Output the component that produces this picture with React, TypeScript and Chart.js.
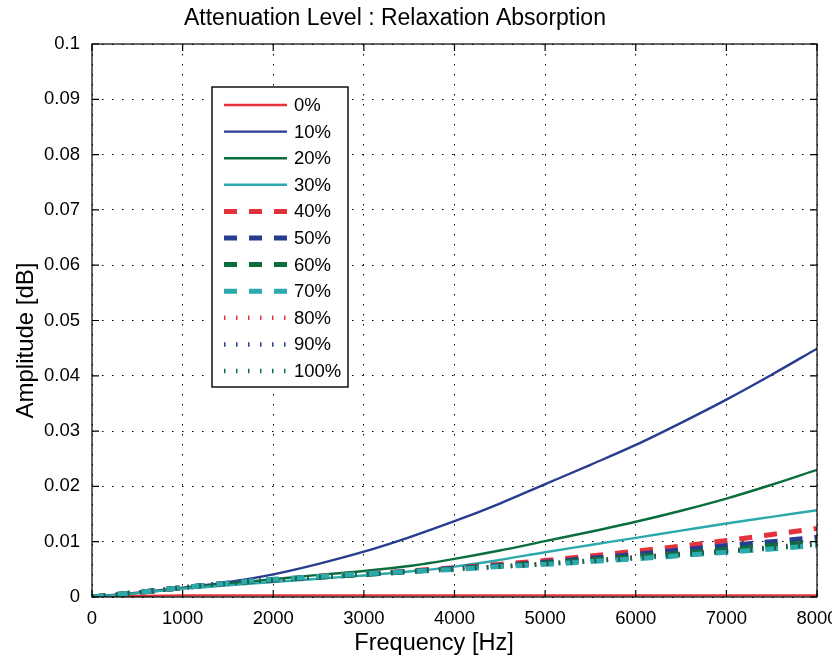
import React, { useEffect, useRef } from 'react';
import { Chart, registerables } from 'chart.js';

Chart.register(...registerables);

// Frequency grid (Hz) shared by every curve
const FREQ_HZ = [0, 500, 1000, 1500, 2000, 2500, 3000, 3500, 4000, 4500, 5000, 5500, 6000, 6500, 7000, 7500, 8000];

// Attenuation amplitude (dB) per level
const AMP_0 = [0, 0.0002, 0.0003, 0.0003, 0.0003, 0.0003, 0.0003, 0.0003, 0.0003, 0.0003, 0.0003, 0.0003, 0.0003, 0.0003, 0.0003, 0.0003, 0.0003];
const AMP_10 = [0, 0.0008, 0.0017, 0.0027, 0.0041, 0.006, 0.0082, 0.0108, 0.0137, 0.0169, 0.0204, 0.0239, 0.0275, 0.0315, 0.0357, 0.0402, 0.0449];
const AMP_20 = [0, 0.0007, 0.0016, 0.0024, 0.0032, 0.004, 0.0047, 0.0056, 0.0069, 0.0084, 0.0101, 0.0118, 0.0136, 0.0156, 0.0178, 0.0203, 0.023];
const AMP_30 = [0, 0.0007, 0.0015, 0.0021, 0.0027, 0.0033, 0.0039, 0.0046, 0.0055, 0.0067, 0.0081, 0.0094, 0.0107, 0.012, 0.0133, 0.0145, 0.0157];
const AMP_40 = [0, 0.0008, 0.0017, 0.0025, 0.0031, 0.0037, 0.0042, 0.0047, 0.0053, 0.0059, 0.0066, 0.0074, 0.0083, 0.0092, 0.0102, 0.0113, 0.0124];
const AMP_50 = [0, 0.0008, 0.0017, 0.0025, 0.0031, 0.0036, 0.0041, 0.0046, 0.0052, 0.0057, 0.0063, 0.007, 0.0077, 0.0085, 0.0093, 0.01, 0.0108];
const AMP_60 = [0, 0.0008, 0.0017, 0.0025, 0.0031, 0.0036, 0.0041, 0.0046, 0.0051, 0.0056, 0.0061, 0.0067, 0.0073, 0.0079, 0.0086, 0.0093, 0.0099];
const AMP_70 = [0, 0.0008, 0.0017, 0.0025, 0.0032, 0.0037, 0.0042, 0.0046, 0.005, 0.0055, 0.0059, 0.0064, 0.0069, 0.0075, 0.0081, 0.0087, 0.0093];
const AMP_80 = [0, 0.0008, 0.0017, 0.0025, 0.0031, 0.0036, 0.0041, 0.0046, 0.0051, 0.0055, 0.006, 0.0066, 0.0072, 0.0078, 0.0084, 0.009, 0.0097];
const AMP_90 = [0, 0.0008, 0.0017, 0.0025, 0.0031, 0.0036, 0.0041, 0.0046, 0.0051, 0.0055, 0.006, 0.0065, 0.0071, 0.0077, 0.0083, 0.0089, 0.0096];
const AMP_100 = [0, 0.0008, 0.0017, 0.0025, 0.0031, 0.0036, 0.0041, 0.0046, 0.005, 0.0055, 0.006, 0.0065, 0.007, 0.0076, 0.0082, 0.0088, 0.0095];

const LEVEL_LABELS = ['0%', '10%', '20%', '30%', '40%', '50%', '60%', '70%', '80%', '90%', '100%'];
const SERIES = [AMP_0, AMP_10, AMP_20, AMP_30, AMP_40, AMP_50, AMP_60, AMP_70, AMP_80, AMP_90, AMP_100];

// Axis ticks
const X_TICKS = [0, 1000, 2000, 3000, 4000, 5000, 6000, 7000, 8000];
const Y_TICKS = [0, 0.01, 0.02, 0.03, 0.04, 0.05, 0.06, 0.07, 0.08, 0.09, 0.1];

const TITLE = 'Attenuation Level : Relaxation Absorption';
const X_TITLE = 'Frequency [Hz]';
const Y_TITLE = 'Amplitude [dB]';

const FONT = '"Liberation Sans", Arial, Helvetica, sans-serif';

const RED = '#e3323b';
const BLUE = '#283d8f';
const GREEN = '#0a6e3c';
const CYAN = '#2ca9ac';
const PALETTE = [RED, BLUE, GREEN, CYAN];

// solid, dashed, dotted groups
function styleFor(i: number) {
  const color = PALETTE[i % 4];
  if (i < 4) return { borderColor: color, borderWidth: 2.4, borderDash: [] as number[] };
  if (i < 8) return { borderColor: color, borderWidth: 5, borderDash: [13, 12] };
  return { borderColor: color, borderWidth: 4.5, borderDash: [1.5, 10.5] };
}

// Axes box with inward ticks on all four sides
const framePlugin = {
  id: 'frame',
  afterDatasetsDraw(chart: any) {
    const { ctx, chartArea } = chart;
    const { left, right, top, bottom } = chartArea;
    const xs = chart.scales.x;
    const ys = chart.scales.y;
    const tl = 7;
    ctx.save();
    ctx.strokeStyle = '#000';
    ctx.lineWidth = 1.2;
    ctx.setLineDash([]);
    ctx.beginPath();
    X_TICKS.forEach((v) => {
      const px = xs.getPixelForValue(v);
      ctx.moveTo(px, bottom);
      ctx.lineTo(px, bottom - tl);
      ctx.moveTo(px, top);
      ctx.lineTo(px, top + tl);
    });
    Y_TICKS.forEach((v) => {
      const py = ys.getPixelForValue(v);
      ctx.moveTo(left, py);
      ctx.lineTo(left + tl, py);
      ctx.moveTo(right, py);
      ctx.lineTo(right - tl, py);
    });
    ctx.stroke();
    ctx.strokeRect(left, top, right - left, bottom - top);
    ctx.restore();
  },
};

// Titles and the boxed legend inside the plot area
const annotatePlugin = {
  id: 'annotate',
  afterDraw(chart: any) {
    const { ctx, chartArea } = chart;
    const { left, top, bottom } = chartArea;
    ctx.save();
    ctx.fillStyle = '#000';
    ctx.textBaseline = 'alphabetic';

    ctx.font = `23px ${FONT}`;
    ctx.textAlign = 'left';
    ctx.fillText(TITLE, left + 92, 25);

    ctx.font = `23.5px ${FONT}`;
    ctx.textAlign = 'center';
    ctx.fillText(X_TITLE, left + 342, bottom + 53);

    ctx.save();
    ctx.font = `24px ${FONT}`;
    ctx.translate(33, (top + bottom) / 2 + 20);
    ctx.rotate(-Math.PI / 2);
    ctx.fillText(Y_TITLE, 0, 0);
    ctx.restore();

    // legend
    const lx = left + 120;
    const ly = top + 43;
    const lw = 136;
    const lh = 300;
    ctx.fillStyle = '#fff';
    ctx.fillRect(lx, ly, lw, lh);
    ctx.strokeStyle = '#000';
    ctx.lineWidth = 1.4;
    ctx.setLineDash([]);
    ctx.strokeRect(lx, ly, lw, lh);

    ctx.font = `18.5px ${FONT}`;
    ctx.textAlign = 'left';
    ctx.textBaseline = 'middle';
    chart.data.datasets.forEach((ds: any, i: number) => {
      const ry = ly + 18 + i * 26.6;
      ctx.save();
      ctx.strokeStyle = ds.borderColor;
      ctx.lineWidth = ds.borderWidth;
      ctx.setLineDash(ds.borderDash || []);
      ctx.lineCap = 'butt';
      ctx.beginPath();
      ctx.moveTo(lx + 12, ry);
      ctx.lineTo(lx + 75, ry);
      ctx.stroke();
      ctx.restore();
      ctx.fillStyle = '#000';
      ctx.fillText(ds.label, lx + 82, ry + 1);
    });
    ctx.restore();
  },
};

export default function App() {
  const canvasRef = useRef<HTMLCanvasElement | null>(null);

  useEffect(() => {
    if (!canvasRef.current) return;
    Chart.defaults.font.family = FONT;
    const datasets = SERIES.map((vals, i) => ({
      label: LEVEL_LABELS[i],
      data: vals.map((v, k) => ({ x: FREQ_HZ[k], y: v })),
      ...styleFor(i),
      backgroundColor: PALETTE[i % 4],
      pointRadius: 0,
      fill: false,
      cubicInterpolationMode: 'monotone' as const,
      borderCapStyle: 'butt' as const,
      order: -i,
    }));

    const chart = new Chart(canvasRef.current, {
      type: 'line',
      data: { datasets },
      options: {
        responsive: false,
        animation: false,
        layout: { padding: { top: 44, right: 0, left: 0, bottom: 0 } },
        plugins: {
          legend: { display: false },
          title: { display: false },
          tooltip: { enabled: false },
        },
        scales: {
          x: {
            type: 'linear',
            min: 0,
            max: 8000,
            afterBuildTicks: (scale: any) => {
              scale.ticks = X_TICKS.map((v) => ({ value: v }));
            },
            afterFit: (scale: any) => {
              scale.height = 69;
              scale.paddingLeft = 0;
              scale.paddingRight = 15;
            },
            ticks: {
              color: '#000',
              font: { size: 18.5 },
              padding: 11,
              maxRotation: 0,
              callback: (v: any) => String(v),
            },
            grid: { color: '#000', lineWidth: 1, drawTicks: false, tickLength: 0 },
            border: { display: false, dash: [1.5, 8.5] },
          },
          y: {
            type: 'linear',
            min: 0,
            max: 0.1,
            afterBuildTicks: (scale: any) => {
              scale.ticks = Y_TICKS.map((v) => ({ value: v }));
            },
            afterFit: (scale: any) => {
              scale.width = 92;
              scale.paddingTop = 0;
              scale.paddingBottom = 0;
            },
            ticks: {
              color: '#000',
              font: { size: 18.5 },
              padding: 12,
              callback: (v: any) => String(Number(Number(v).toFixed(3))),
            },
            grid: { color: '#000', lineWidth: 1, drawTicks: false, tickLength: 0 },
            border: { display: false, dash: [1.5, 8.5] },
          },
        },
      },
      plugins: [framePlugin, annotatePlugin],
    });

    return () => chart.destroy();
  }, []);

  return (
    <div style={{ position: 'absolute', left: 0, top: 0, width: 832, height: 666, background: '#fff' }}>
      <canvas ref={canvasRef} width={832} height={666} style={{ display: 'block' }} />
    </div>
  );
}
